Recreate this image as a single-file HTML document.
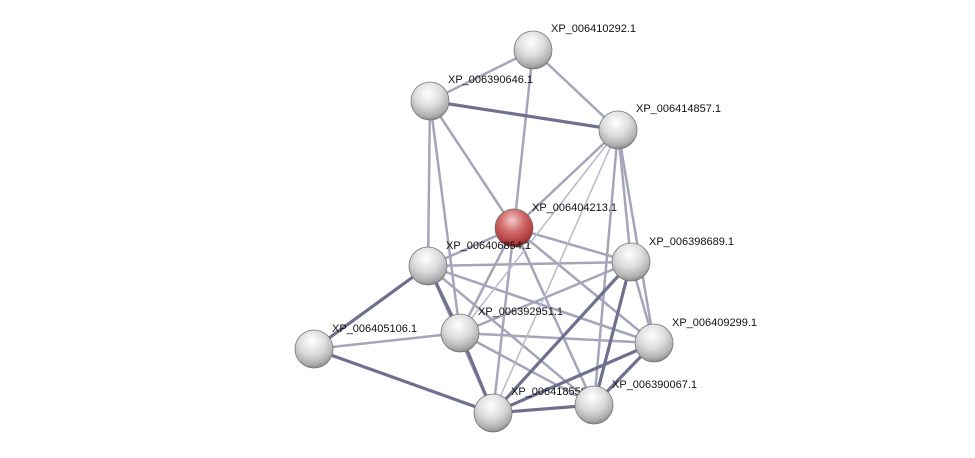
<!DOCTYPE html>
<html><head><meta charset="utf-8"><style>
html,body{margin:0;padding:0;background:#fff;}
svg{display:block;}
text{font-family:"Liberation Sans",sans-serif;font-size:11px;fill:#111;}
</style></head><body>
<svg width="975" height="458" viewBox="0 0 975 458" xmlns="http://www.w3.org/2000/svg">
<defs>
<radialGradient id="g" cx="0.45" cy="0.3" r="0.7">
<stop offset="0" stop-color="#ffffff"/><stop offset="0.5" stop-color="#dcdcdc"/><stop offset="0.85" stop-color="#b0b0b0"/><stop offset="1" stop-color="#8a8a8a"/></radialGradient>
<radialGradient id="r" cx="0.45" cy="0.3" r="0.7">
<stop offset="0" stop-color="#f4c8c8"/><stop offset="0.45" stop-color="#d06a6a"/><stop offset="0.85" stop-color="#b03c3c"/><stop offset="1" stop-color="#7a2020"/></radialGradient>
</defs>
<g stroke-linecap="round">
<g stroke="#9596ae" stroke-width="2.5" opacity="0.85">
<line x1="533" y1="50" x2="430" y2="101"/>
<line x1="533" y1="50" x2="618" y2="130"/>
<line x1="533" y1="50" x2="514" y2="228"/>
<line x1="430" y1="101" x2="514" y2="228"/>
<line x1="430" y1="101" x2="428" y2="266"/>
<line x1="430" y1="101" x2="460" y2="333"/>
<line x1="618" y1="130" x2="514" y2="228"/>
<line x1="618" y1="130" x2="631" y2="262"/>
<line x1="618" y1="130" x2="654" y2="343"/>
<line x1="618" y1="130" x2="594" y2="405"/>
<line x1="514" y1="228" x2="428" y2="266"/>
<line x1="514" y1="228" x2="631" y2="262"/>
<line x1="514" y1="228" x2="460" y2="333"/>
<line x1="514" y1="228" x2="493" y2="413"/>
<line x1="514" y1="228" x2="594" y2="405"/>
<line x1="514" y1="228" x2="654" y2="343"/>
<line x1="428" y1="266" x2="631" y2="262"/>
<line x1="428" y1="266" x2="594" y2="405"/>
<line x1="428" y1="266" x2="654" y2="343"/>
<line x1="631" y1="262" x2="460" y2="333"/>
<line x1="460" y1="333" x2="654" y2="343"/>
<line x1="460" y1="333" x2="594" y2="405"/>
<line x1="460" y1="333" x2="314" y2="349"/>
<line x1="631" y1="262" x2="654" y2="343"/>
<line x1="428" y1="266" x2="493" y2="413"/>
</g>
<g stroke="#b8b9cc" stroke-width="1.5">
<line x1="618" y1="130" x2="460" y2="333"/>
<line x1="618" y1="130" x2="493" y2="413"/>
<line x1="631" y1="262" x2="594" y2="405"/>
</g>
<g stroke="#6e7090" stroke-width="3.2">
<line x1="430" y1="101" x2="618" y2="130"/>
<line x1="428" y1="266" x2="460" y2="333"/>
<line x1="428" y1="266" x2="314" y2="349"/>
<line x1="460" y1="333" x2="493" y2="413"/>
<line x1="314" y1="349" x2="493" y2="413"/>
<line x1="631" y1="262" x2="493" y2="413"/>
<line x1="631" y1="262" x2="594" y2="405"/>
<line x1="654" y1="343" x2="493" y2="413"/>
<line x1="654" y1="343" x2="594" y2="405"/>
<line x1="493" y1="413" x2="594" y2="405"/>
</g>
</g>
<g stroke="#777" stroke-width="0.8">
<circle cx="533" cy="50" r="19" fill="url(#g)"/>
<circle cx="430" cy="101" r="19" fill="url(#g)"/>
<circle cx="618" cy="130" r="19" fill="url(#g)"/>
<circle cx="514" cy="228" r="19" fill="url(#r)"/>
<circle cx="428" cy="266" r="19" fill="url(#g)"/>
<circle cx="631" cy="262" r="19" fill="url(#g)"/>
<circle cx="460" cy="333" r="19" fill="url(#g)"/>
<circle cx="314" cy="349" r="19" fill="url(#g)"/>
<circle cx="654" cy="343" r="19" fill="url(#g)"/>
<circle cx="493" cy="413" r="19" fill="url(#g)"/>
</g>
<text x="511" y="395">XP_006418550.1</text>
<circle cx="594" cy="405" r="19" fill="url(#g)" stroke="#777" stroke-width="0.8"/>
<g>
<text x="551" y="32">XP_006410292.1</text>
<text x="448" y="83">XP_006390646.1</text>
<text x="636" y="112">XP_006414857.1</text>
<text x="532" y="211">XP_006404213.1</text>
<text x="446" y="249">XP_006406854.1</text>
<text x="649" y="245">XP_006398689.1</text>
<text x="478" y="315">XP_006392951.1</text>
<text x="332" y="332">XP_006405106.1</text>
<text x="672" y="326">XP_006409299.1</text>
<text x="612" y="388">XP_006390067.1</text>
</g>
</svg>
</body></html>
